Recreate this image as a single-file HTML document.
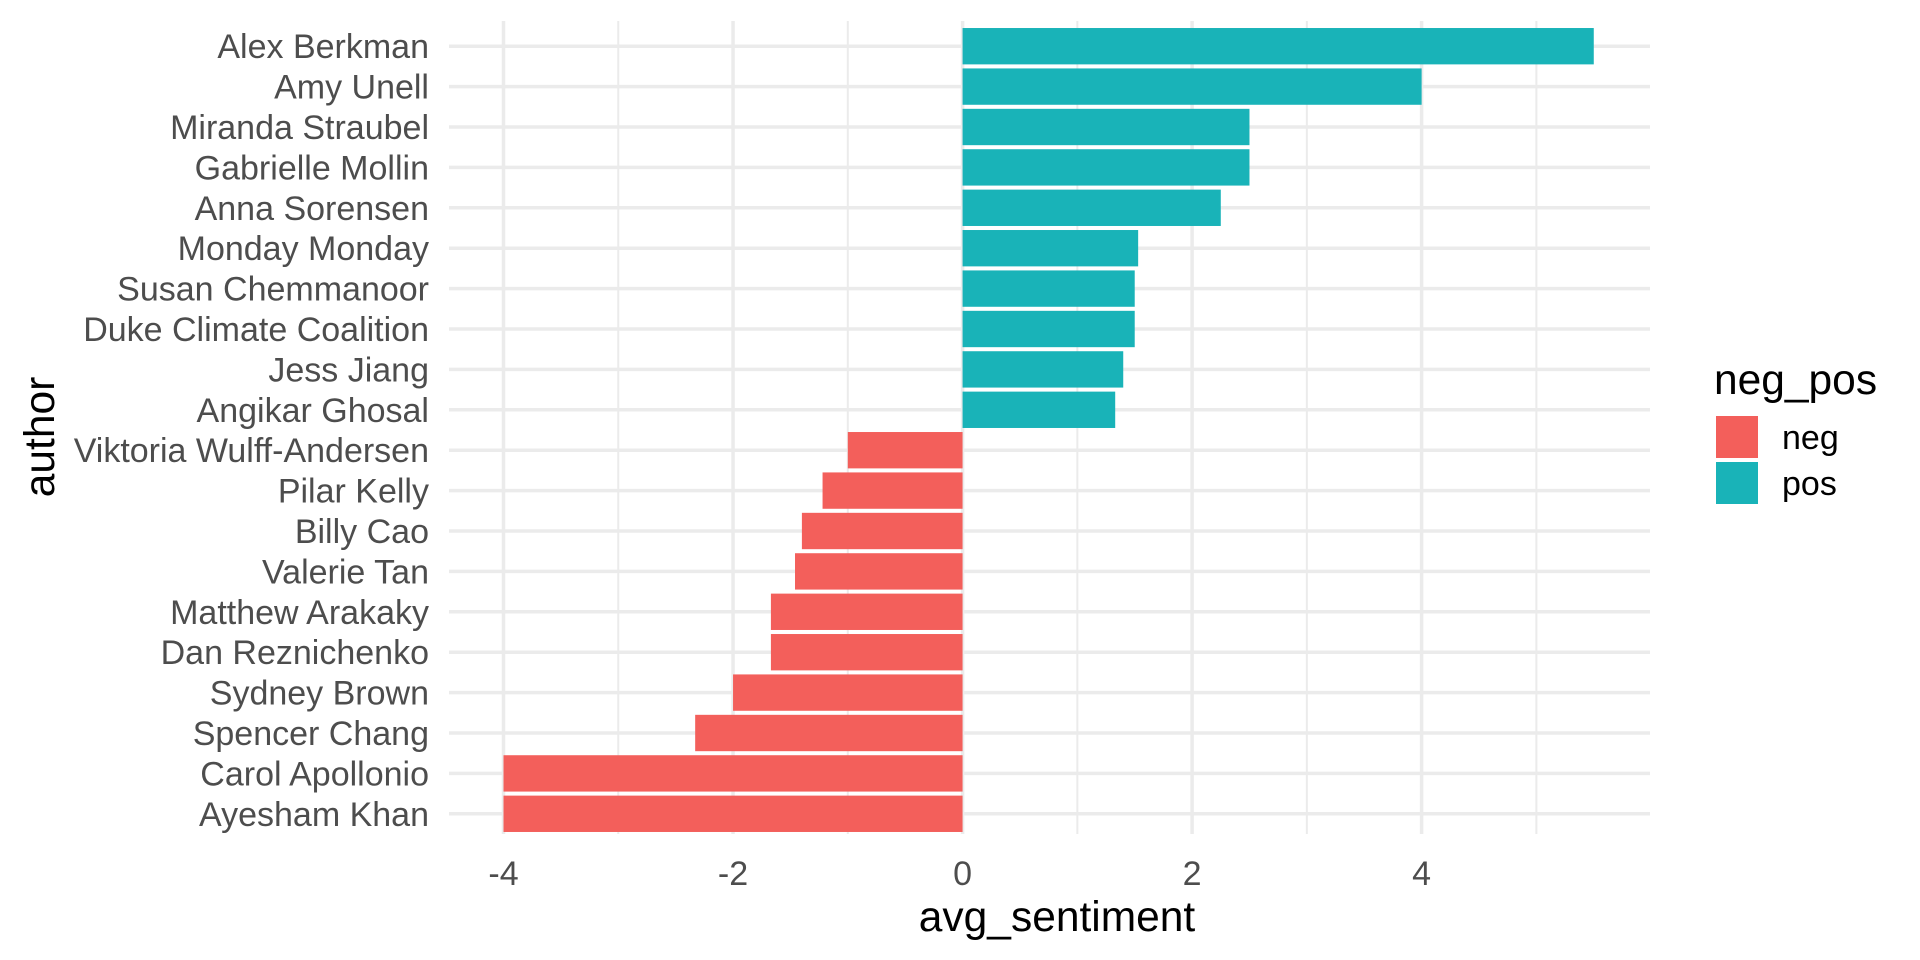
<!DOCTYPE html>
<html><head><meta charset="utf-8"><style>
html,body{margin:0;padding:0;background:#fff;}
svg{display:block;font-family:"Liberation Sans",Arial,sans-serif;}
</style></head><body>
<svg id="chart" width="1920" height="960" viewBox="0 0 1920 960">
<g id="grid"></g>
<g id="bars"></g>
<g id="ylabels"></g>
<g id="xlabels"></g>
<text x="1057" y="931" font-size="42.5" text-anchor="middle" fill="#000">avg_sentiment</text>
<text transform="translate(54,437) rotate(-90)" font-size="42.5" text-anchor="middle" fill="#000">author</text>
<g>
<text x="1714" y="394" font-size="42.5" fill="#000">neg_pos</text>
<rect x="1716" y="416" width="42" height="42" fill="#F35F5B"/>
<text x="1782" y="449" font-size="34" fill="#000">neg</text>
<rect x="1716" y="462" width="42" height="42" fill="#19B3B8"/>
<text x="1782" y="495" font-size="34" fill="#000">pos</text>
</g>
</svg>
<script>
const authors = ["Alex Berkman","Amy Unell","Miranda Straubel","Gabrielle Mollin","Anna Sorensen","Monday Monday","Susan Chemmanoor","Duke Climate Coalition","Jess Jiang","Angikar Ghosal","Viktoria Wulff-Andersen","Pilar Kelly","Billy Cao","Valerie Tan","Matthew Arakaky","Dan Reznichenko","Sydney Brown","Spencer Chang","Carol Apollonio","Ayesham Khan"];
const sentiment = [5.5,4.0,2.5,2.5,2.25,1.53,1.5,1.5,1.4,1.33,-1.0,-1.22,-1.4,-1.46,-1.67,-1.67,-2.0,-2.33,-4.0,-4.0];
const xTicks = [-4,-2,0,2,4];
const xMinor = [-3,-1,1,3,5];
const NS="http://www.w3.org/2000/svg";
const pl=449, pr=1650, pt=26, pb=834;
const xmin=-4.475, xmax=5.99;
function xs(v){return pl+(v-xmin)/(xmax-xmin)*(pr-pl);}
const n=authors.length;
const step=(pb-pt)/n;
function ys(i){return pt+step*(i+0.5);}
function mk(tag,attrs,parent){const e=document.createElementNS(NS,tag);for(const k in attrs)e.setAttribute(k,attrs[k]);parent.appendChild(e);return e;}
const grid=document.getElementById('grid'),bars=document.getElementById('bars'),yl=document.getElementById('ylabels'),xl=document.getElementById('xlabels');
xMinor.forEach(v=>{const l=mk('line',{x1:xs(v),x2:xs(v),y1:21,y2:pb,stroke:'#ebebeb','stroke-width':2},grid);

});
xTicks.forEach(v=>{const l=mk('line',{x1:xs(v),x2:xs(v),y1:21,y2:pb,stroke:'#ebebeb','stroke-width':3.5},grid);


const t=mk('text',{x:xs(v),y:885,'font-size':34,'text-anchor':'middle',fill:'#4d4d4d'},xl);t.textContent=v;

});
authors.forEach((a,i)=>{const y=ys(i);
const l=mk('line',{x1:pl,x2:pr,y1:y,y2:y,stroke:'#ebebeb','stroke-width':3.5},grid);


const t=mk('text',{x:429,y:y+12,'font-size':34,'text-anchor':'end',fill:'#4d4d4d'},yl);t.textContent=a;


const v=sentiment[i];const h=step*0.9;
const r=mk('rect',{x:Math.min(xs(0),xs(v)),y:y-h/2,width:Math.abs(xs(v)-xs(0)),height:h,fill:v<0?'#F35F5B':'#19B3B8'},bars);

});
</script>
</body></html>
